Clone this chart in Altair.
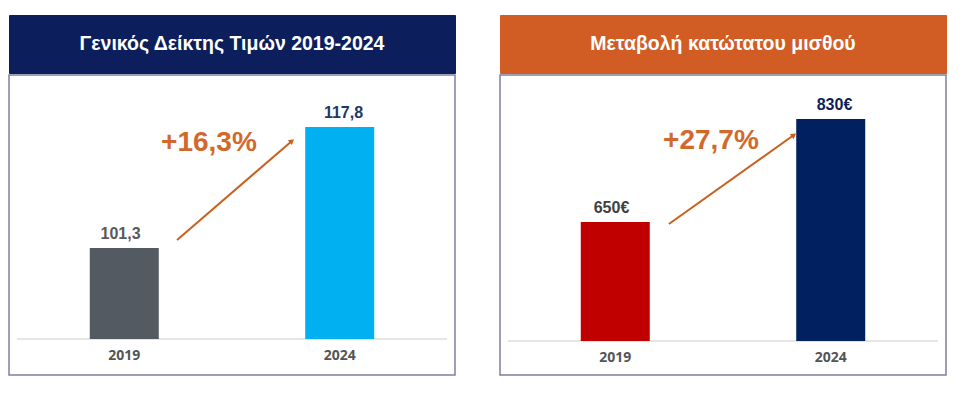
import altair as alt
import pandas as pd

years = ["2019", "2024"]
titles = ["Γενικός Δείκτης Τιμών 2019-2024", "Μεταβολή κατώτατου μισθού"]

cpi_values = [101.3, 117.8]
cpi_labels = ["101,3", "117,8"]
cpi_change = "+16,3%"

wage_values = [650, 830]
wage_labels = ["650€", "830€"]
wage_change = "+27,7%"

# annotation arrows: x in category-index units (2019 = 0, 2024 = 1), y in data units
cpi_arrow_x = [0.245, 0.778]
cpi_arrow_y = [102.4, 115.9]
cpi_text_x = [0.393]
cpi_text_y = [115.6]

wage_arrow_x = [0.249, 0.829]
wage_arrow_y = [646.5, 802.0]
wage_text_x = [0.444]
wage_text_y = [791.5]

FRAME = "#7f7f9f"
ORANGE_TXT = "#d2692c"
ARROW = "#c9601f"
W = 446
P_OUT = 0.035


def panel(title, header_color, values, labels, bar_colors, label_colors,
          change, tx, ty, ax, ay, base, y_domain, axis_offset, head_angle):
    df = pd.DataFrame({"year": years, "value": values, "label": labels})

    header = (
        alt.Chart(pd.DataFrame({"t": [title]}))
        .mark_text(font="Liberation Sans", fontSize=19.5, fontWeight="bold", color="white")
        .encode(text="t:N")
        .properties(width=W, height=58,
                    view=alt.ViewBackground(fill=header_color, stroke=header_color))
    )

    xs = alt.Scale(domain=years, paddingInner=0, paddingOuter=P_OUT)
    ys = alt.Scale(domain=y_domain, nice=False, zero=False)
    xaxis = alt.Axis(title=None, labelAngle=0, ticks=False, tickSize=0, domain=False,
                     labelFont="Open Sans", labelFontWeight="bold", labelFontSize=14,
                     labelColor="#555555", labelPadding=9, offset=axis_offset)

    baseline = alt.Chart(pd.DataFrame({"b": [base]})).mark_rule(
        color="#dcdcdc", strokeWidth=1.5).encode(
        x=alt.value(8), x2=alt.value(W - 8),
        y=alt.Y("b:Q", scale=ys, axis=None),
    )

    bars = alt.Chart(df).mark_bar(size=69).encode(
        x=alt.X("year:N", scale=xs, axis=xaxis),
        y=alt.Y("value:Q", scale=ys, axis=None),
        y2=alt.datum(base),
        color=alt.condition(alt.datum.year == years[0],
                            alt.value(bar_colors[0]), alt.value(bar_colors[1])),
    )

    texts = alt.Chart(df).mark_text(baseline="bottom", dy=-6, font="Liberation Sans",
                                    fontSize=16, fontWeight="bold").encode(
        x=alt.X("year:N", scale=xs, axis=None),
        y=alt.Y("value:Q", scale=ys, axis=None),
        text="label:N",
        color=alt.condition(alt.datum.year == years[0],
                            alt.value(label_colors[0]), alt.value(label_colors[1])),
    )

    xq = alt.Scale(domain=[-0.5 - P_OUT, 1.5 + P_OUT], nice=False, zero=False)
    arrow_df = pd.DataFrame({"x": ax, "y": ay})
    line = alt.Chart(arrow_df).mark_line(color=ARROW, strokeWidth=2).encode(
        x=alt.X("x:Q", scale=xq, axis=None),
        y=alt.Y("y:Q", scale=ys, axis=None),
    )
    head = alt.Chart(arrow_df.iloc[[1]]).mark_point(
        shape="triangle-up", filled=True, size=40, angle=head_angle,
        color=ARROW, opacity=1).encode(
        x=alt.X("x:Q", scale=xq, axis=None),
        y=alt.Y("y:Q", scale=ys, axis=None),
    )
    pct = alt.Chart(pd.DataFrame({"x": tx, "y": ty, "t": [change]})).mark_text(
        font="Liberation Sans", fontSize=28, fontWeight="bold", color=ORANGE_TXT,
        baseline="middle").encode(
        x=alt.X("x:Q", scale=xq, axis=None),
        y=alt.Y("y:Q", scale=ys, axis=None),
        text="t:N",
    )

    body = alt.layer(baseline, bars, texts, line, head, pct).resolve_scale(x="independent").properties(
        width=W, height=300,
        view=alt.ViewBackground(stroke=FRAME, strokeWidth=1.5, fill="white"),
    )
    return alt.vconcat(header, body, spacing=0)


left = panel(titles[0], "#0c1f5c", cpi_values, cpi_labels,
             ["#545a61", "#00b0f0"], ["#595959", "#1f3864"],
             cpi_change, cpi_text_x, cpi_text_y, cpi_arrow_x, cpi_arrow_y,
             88.89, [83.98, 124.89], -36, 49)

right = panel(titles[1], "#d15d24", wage_values, wage_labels,
              ["#c00000", "#002060"], ["#404040", "#0d1f55"],
              wage_change, wage_text_x, wage_text_y, wage_arrow_x, wage_arrow_y,
              442, [382.6, 906.9], -34, 54)

chart = (
    alt.hconcat(left, right, spacing=43)
    .properties(padding={"left": 0, "top": 6, "right": 5, "bottom": 5}, background="white")
)

chart.save("out.html", embed_options={"renderer": "svg", "actions": False})
